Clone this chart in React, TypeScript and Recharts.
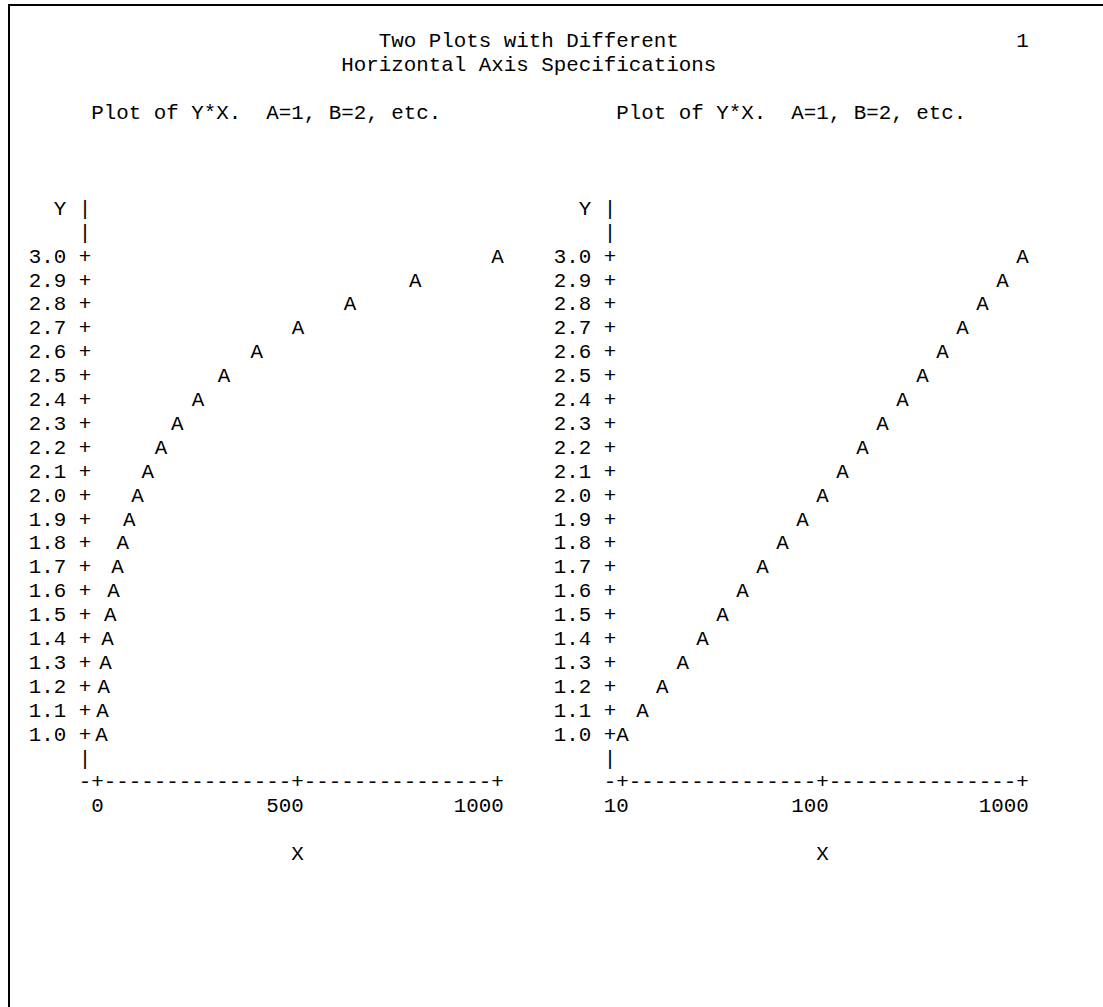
import React from "react";
import { ScatterChart, Scatter, XAxis, YAxis } from "recharts";

// values
const yValues = [1.0, 1.1, 1.2, 1.3, 1.4, 1.5, 1.6, 1.7, 1.8, 1.9, 2.0, 2.1, 2.2, 2.3, 2.4, 2.5, 2.6, 2.7, 2.8, 2.9, 3.0];
const xValues = [10, 12.6, 15.8, 20.0, 25.1, 31.6, 39.8, 50.1, 63.1, 79.4, 100, 125.9, 158.5, 199.5, 251.2, 316.2, 398.1, 501.2, 631.0, 794.3, 1000];
const yTicks = [1.0, 1.1, 1.2, 1.3, 1.4, 1.5, 1.6, 1.7, 1.8, 1.9, 2.0, 2.1, 2.2, 2.3, 2.4, 2.5, 2.6, 2.7, 2.8, 2.9, 3.0];
const linearTicks = [0, 500, 1000];
const logTicks = [10, 100, 1000];

const titleLines = ["Two Plots with Different", "Horizontal Axis Specifications"];
const plotLabel = "Plot of Y*X.  A=1, B=2, etc.";
const pageNumber = "1";

const data = xValues.map((x, i) => ({ x, y: yValues[i] }));

// line-printer grid
const FONT = '"Liberation Mono", "DejaVu Sans Mono", monospace';
const CW = 12.5; // one character cell
const FS = CW / 0.6;
const ROW = 23.9;
const ROW0 = 41;
const COL0 = 35;
const BASE = 6.5; // baseline sits below the row centre
const rowY = (r: number) => ROW0 + r * ROW;
const colX = (c: number) => COL0 + c * CW;

const PLOT_W = 32 * CW;
const PLOT_H = 20 * ROW;
const Y_AXIS_W = colX(5);
const CHART_W = 525;
const CHART_H = 900;
const TOP = rowY(9);

const Txt = ({ x, y, anchor = "middle", children }: any) => (
  <text
    x={x}
    y={y + BASE}
    textAnchor={anchor}
    fontFamily={FONT}
    fontSize={FS}
    fill="#000"
    style={{ whiteSpace: "pre" }}
  >
    {children}
  </text>
);

const Letter = (props: any) => (
  <Txt x={props.cx} y={props.cy}>
    A
  </Txt>
);

const YTick = (props: any) => {
  const { x, y, payload } = props;
  return (
    <Txt x={x - CW / 2} y={y} anchor="end">
      {`${Number(payload.value).toFixed(1)} +`}
    </Txt>
  );
};

const makeXTick = (ticks: number[]) => (props: any) => {
  const { x, y, payload, index } = props;
  const n = ticks.length;
  const label = String(payload.value);
  const dashes = Math.round(PLOT_W / CW / (n - 1)) - 1;
  let left = x - (label.length * CW) / 2 - (label.length % 2 === 0 ? CW / 2 : 0);
  if (left + label.length * CW > x + CW / 2) left = x + CW / 2 - label.length * CW;
  return (
    <g>
      {index === 0 && (
        <Txt x={x - CW} y={y + 2 * ROW}>
          -
        </Txt>
      )}
      <Txt x={x} y={y + 2 * ROW}>
        +
      </Txt>
      {index < n - 1 && (
        <Txt x={x + CW / 2} y={y + 2 * ROW} anchor="start">
          {"-".repeat(dashes)}
        </Txt>
      )}
      <Txt x={left} y={y + 3 * ROW} anchor="start">
        {label}
      </Txt>
    </g>
  );
};

const YAxisLabel = (props: any) => {
  const { x, y, width, height } = props.viewBox;
  const axisX = x + width - CW;
  return (
    <g>
      <Txt x={axisX + CW / 2} y={y - 2 * ROW} anchor="end">
        Y |
      </Txt>
      <Txt x={axisX} y={y - ROW}>
        |
      </Txt>
      <Txt x={axisX} y={y + height + ROW}>
        |
      </Txt>
    </g>
  );
};

const XAxisLabel = (props: any) => {
  const { x, y, width } = props.viewBox;
  return (
    <Txt x={x + width / 2} y={y + 5 * ROW}>
      X
    </Txt>
  );
};

const PrintPlot = ({ left, log }: { left: number; log: boolean }) => {
  const ticks = log ? logTicks : linearTicks;
  return (
    <div style={{ position: "absolute", left, top: 0 }}>
      <ScatterChart
        width={CHART_W}
        height={CHART_H}
        margin={{ top: TOP, right: CHART_W - Y_AXIS_W - PLOT_W, bottom: 0, left: 0 }}
      >
        <XAxis
          dataKey="x"
          type="number"
          scale={log ? "log" : "auto"}
          domain={log ? [10, 1000] : [0, 1000]}
          ticks={ticks}
          interval={0}
          height={CHART_H - TOP - PLOT_H}
          axisLine={false}
          tickLine={false}
          tickSize={0}
          tickMargin={0}
          tick={makeXTick(ticks)}
          label={(p: any) => <XAxisLabel {...p} />}
        />
        <YAxis
          dataKey="y"
          type="number"
          domain={[1, 3]}
          ticks={yTicks}
          interval={0}
          width={Y_AXIS_W}
          axisLine={false}
          tickLine={false}
          tickSize={0}
          tickMargin={0}
          tick={YTick}
          label={(p: any) => <YAxisLabel {...p} />}
        />
        <Scatter data={data} shape={Letter} isAnimationActive={false} />
      </ScatterChart>
    </div>
  );
};

const Line = ({ col, row, text }: { col: number; row: number; text: string }) => (
  <div
    style={{
      position: "absolute",
      left: colX(col) - CW / 2,
      top: rowY(row) - 11,
      fontFamily: FONT,
      fontSize: FS,
      lineHeight: `${ROW}px`,
      whiteSpace: "pre",
      color: "#000",
    }}
  >
    {text}
  </div>
);

export default function App() {
  return (
    <div
      style={{
        position: "absolute",
        left: 0,
        top: 0,
        width: 1103,
        height: 1007,
        background: "#fff",
        overflow: "hidden",
      }}
    >
      <div
        style={{
          position: "absolute",
          left: 8,
          top: 4,
          width: 1095,
          height: 1003,
          borderTop: "2px solid #000",
          borderLeft: "2px solid #000",
          boxSizing: "border-box",
        }}
      />
      <Line col={28} row={0} text={titleLines[0]} />
      <Line col={25} row={1} text={titleLines[1]} />
      <Line col={79} row={0} text={pageNumber} />
      <Line col={5} row={3} text={plotLabel} />
      <Line col={47} row={3} text={plotLabel} />
      <PrintPlot left={0} log={false} />
      <PrintPlot left={42 * CW} log={true} />
    </div>
  );
}
